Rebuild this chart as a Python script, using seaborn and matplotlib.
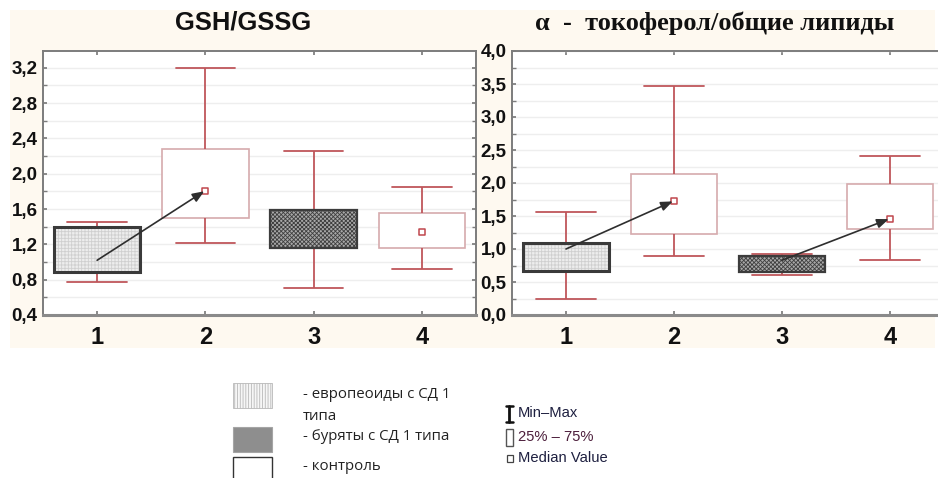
import numpy as np
import pandas as pd
import matplotlib
matplotlib.use("Agg")
import matplotlib.pyplot as plt
import seaborn as sns
from matplotlib.patches import Rectangle, PathPatch
from matplotlib.lines import Line2D
from matplotlib.ticker import FixedLocator, FuncFormatter

# Groups: 1, 3 - patients (europeoids / buryats), 2, 4 - controls
groups = ["1", "2", "3", "4"]

# GSH/GSSG: min, lower quartile, median, upper quartile, max
gsh_min = [0.77, 1.22, 0.71, 0.92]
gsh_q1 = [0.89, 1.50, 1.16, 1.16]
gsh_med = [1.02, 1.81, 1.38, 1.34]
gsh_q3 = [1.40, 2.28, 1.59, 1.55]
gsh_max = [1.45, 3.20, 2.26, 1.85]

# alpha-tocopherol / total lipids
toc_min = [0.24, 0.90, 0.61, 0.84]
toc_q1 = [0.67, 1.22, 0.65, 1.30]
toc_med = [1.00, 1.73, 0.83, 1.46]
toc_q3 = [1.09, 2.13, 0.89, 1.98]
toc_max = [1.56, 3.47, 0.92, 2.41]

gsh_ticks = [0.4, 0.8, 1.2, 1.6, 2.0, 2.4, 2.8, 3.2]
toc_ticks = [0.0, 0.5, 1.0, 1.5, 2.0, 2.5, 3.0, 3.5, 4.0]

W, H = 938, 478
sns.set_theme(style="white")
plt.rcParams["font.family"] = ["Liberation Sans", "DejaVu Sans"]
plt.rcParams["hatch.linewidth"] = 0.6

WHISK = "#BF565B"
CTRL_EDGE = "#D6AAAD"
SPINE = "#7c7c7c"
GRID = "#EEEEEE"


def fx(x):
    return x / W


def fy(y):
    return 1 - y / H


def summary_frame(mins, q1s, meds, q3s, maxs):
    rows = []
    for g, a, b, c, d, e in zip(groups, mins, q1s, meds, q3s, maxs):
        for v in (a, b, c, d, e):
            rows.append({"group": g, "value": v})
    return pd.DataFrame(rows)


def comma(v, pos):
    return f"{v:.1f}".replace(".", ",")


def draw_panel(ax, mins, q1s, meds, q3s, maxs, ylim, major, minor, arrows):
    df = summary_frame(mins, q1s, meds, q3s, maxs)
    sns.boxplot(data=df, x="group", y="value", order=groups, whis=(0, 100),
                width=0.8, color="white", linecolor=WHISK, linewidth=1.3,
                medianprops={"visible": False}, showfliers=False, ax=ax)
    bp = ax.containers[-1]

    for cap in bp.caps:
        xd = np.asarray(cap.get_xdata(), dtype=float)
        c = xd.mean()
        cap.set_xdata([c - 0.275, c + 0.275])
        cap.set_color(WHISK)
    for wl in bp.whiskers:
        wl.set_color(WHISK)

    for i, box in enumerate(bp.boxes):
        if i == 0:
            box.set_facecolor("#EDEDED")
            box.set_edgecolor("#CFCFCF")
            box.set_hatch("+++++")
            box.set_zorder(3)
            ax.add_patch(PathPatch(box.get_path(), transform=box.get_transform(),
                                   facecolor="none", edgecolor="#3a3a3a",
                                   lw=2.2, zorder=3.1))
        elif i == 2:
            box.set_facecolor("#A8A8A8")
            box.set_edgecolor("#3e3e3e")
            box.set_hatch("xxxxxxxx")
            box.set_zorder(3)
            ax.add_patch(PathPatch(box.get_path(), transform=box.get_transform(),
                                   facecolor="none", edgecolor="#3c3c3c",
                                   lw=1.6, zorder=3.1))
        else:
            box.set_facecolor("white")
            box.set_edgecolor(CTRL_EDGE)
            box.set_linewidth(1.2)

    # median squares (hidden under the patterned boxes)
    ax.scatter(groups, meds, marker="s", s=16, facecolor="white",
               edgecolor="#C0464D", linewidth=1.1, zorder=2.5)

    for a, b in arrows:
        ia, ib = groups.index(a), groups.index(b)
        ax.annotate("", xy=(ib, meds[ib]), xytext=(ia, meds[ia]),
                    arrowprops=dict(arrowstyle="-|>,head_length=0.5,head_width=0.2",
                                    color="#2e2e2e", lw=1.2,
                                    mutation_scale=14, shrinkA=0, shrinkB=1),
                    zorder=5)

    ax.set_xlim(-0.5, len(groups) - 0.5)
    ax.set_ylim(*ylim)
    ax.yaxis.set_major_locator(FixedLocator(major))
    ax.yaxis.set_minor_locator(FixedLocator(minor))
    ax.yaxis.set_major_formatter(FuncFormatter(comma))
    ax.grid(True, which="both", axis="y", color=GRID, lw=1.0, zorder=0)
    ax.set_axisbelow(True)
    ax.set_xlabel("")
    ax.set_ylabel("")
    ax.set_facecolor("white")
    for s in ("left", "top", "right"):
        ax.spines[s].set_color(SPINE)
        ax.spines[s].set_linewidth(1.4)
        ax.spines[s].set_visible(True)
    ax.spines["bottom"].set_color("#8a8a8a")
    ax.spines["bottom"].set_linewidth(2.2)
    ax.spines["bottom"].set_visible(True)
    ax.tick_params(axis="y", which="both", direction="in", left=True, right=True,
                   length=3, color=SPINE, pad=4, labelsize=13.5)
    ax.tick_params(axis="x", direction="in", bottom=True, top=True, length=3,
                   color=SPINE, pad=8, labelsize=17)
    for lab in ax.get_yticklabels() + ax.get_xticklabels():
        lab.set_fontweight("bold")
        lab.set_color("#111111")


fig = plt.figure(figsize=(W / 100, H / 100), dpi=100)
fig.patch.set_facecolor("white")
fig.add_artist(Rectangle((fx(10), fy(348)), fx(935) - fx(10), fy(10) - fy(348),
                         transform=fig.transFigure, facecolor="#FEF9F0",
                         edgecolor="none", zorder=-5))

ax1 = fig.add_axes([fx(43), fy(315), fx(476) - fx(43), fy(51) - fy(315)])
ax2 = fig.add_axes([fx(512), fy(315), fx(944) - fx(512), fy(51) - fy(315)])

draw_panel(ax1, gsh_min, gsh_q1, gsh_med, gsh_q3, gsh_max, (0.4, 3.39),
           gsh_ticks, np.round(np.arange(0.6, 3.4, 0.2), 1), [("1", "2")])
draw_panel(ax2, toc_min, toc_q1, toc_med, toc_q3, toc_max, (0.0, 4.0),
           toc_ticks, np.round(np.arange(0.25, 4.0, 0.25), 2),
           [("1", "2"), ("3", "4")])

fig.text(fx(243), fy(22.5), "GSH/GSSG", ha="center", va="center",
         fontsize=18.4, fontweight="bold", color="#111111")
fig.text(fx(714.5), fy(23), "α  -  токоферол/общие липиды", ha="center",
         va="center", fontsize=19, fontweight="bold", color="#111111",
         family=["Liberation Serif", "DejaVu Serif"])

# legend: patient groups and control
fig.add_artist(Rectangle((fx(233), fy(408)), fx(272) - fx(233), fy(383) - fy(408),
                         transform=fig.transFigure, facecolor="#F6F6F6",
                         edgecolor="#B8B8B8", hatch="||||||", lw=0.6))
fig.add_artist(Rectangle((fx(233), fy(452)), fx(272) - fx(233), fy(427) - fy(452),
                         transform=fig.transFigure, facecolor="#8E8E8E",
                         edgecolor="#A5A5A5", lw=0.8))
fig.add_artist(Rectangle((fx(233), fy(484)), fx(272) - fx(233), fy(457) - fy(484),
                         transform=fig.transFigure, facecolor="white",
                         edgecolor="#333333", lw=1.0))
leg_font = ["Open Sans", "DejaVu Sans"]
for txt, y in [("- европеоиды с СД 1", 395), ("типа", 416),
               ("- буряты с СД 1 типа", 437), ("- контроль", 467)]:
    fig.text(fx(303), fy(y), txt, ha="left", va="center", fontsize=10.8,
             color="#222222", family=leg_font)

# legend: box-plot elements
ix = 509
fig.add_artist(Line2D([fx(ix), fx(ix)], [fy(406), fy(422)], color="#111111",
                      lw=2.0, transform=fig.transFigure))
for yy in (406, 422):
    fig.add_artist(Line2D([fx(ix - 3.5), fx(ix + 3.5)], [fy(yy), fy(yy)],
                          color="#111111", lw=1.8, transform=fig.transFigure))
fig.add_artist(Rectangle((fx(506), fy(446)), fx(513) - fx(506), fy(429) - fy(446),
                         transform=fig.transFigure, facecolor="white",
                         edgecolor="#555555", lw=1.0))
fig.add_artist(Rectangle((fx(506.5), fy(461.5)), fx(512.5) - fx(506.5),
                         fy(455.5) - fy(461.5), transform=fig.transFigure,
                         facecolor="white", edgecolor="#444444", lw=0.9))
for txt, y, col in [("Min–Max", 413, "#1e2040"), ("25% – 75%", 437, "#4d1f3c"),
                    ("Median Value", 458, "#1e2040")]:
    fig.text(fx(518), fy(y), txt, ha="left", va="center", fontsize=10.6,
             color=col)

fig.savefig("out.png", dpi=100)
